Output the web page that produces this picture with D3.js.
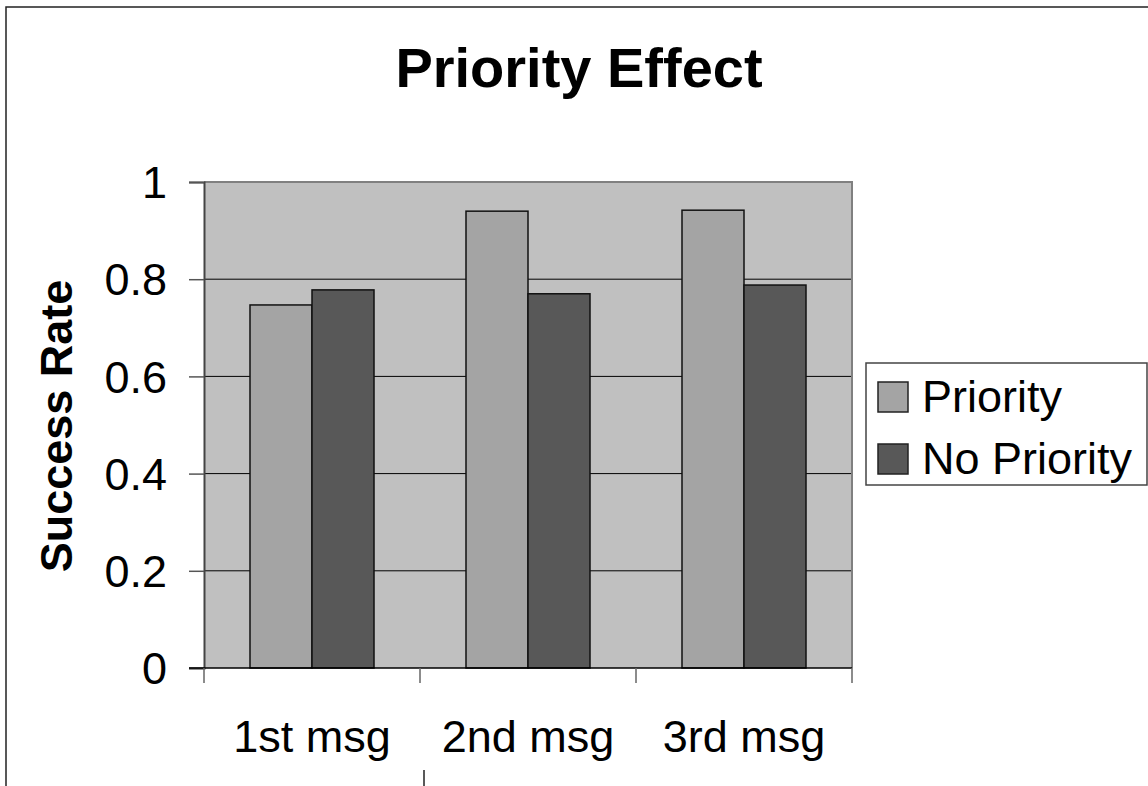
<!DOCTYPE html>
<html>
<head>
<meta charset="utf-8">
<script src="https://cdn.jsdelivr.net/npm/d3@7"></script>
<style>
  body { margin: 0; background: #fff; }
  svg { display: block; font-family: "Liberation Sans", Arial, sans-serif; }
</style>
</head>
<body>
<div class="chart"></div>
<script>
// data
var categories = ["1st msg", "2nd msg", "3rd msg"];
var seriesNames = ["Priority", "No Priority"];
var priority = [0.747, 0.940, 0.942];
var noPriority = [0.778, 0.770, 0.788];
var yTicks = [0, 0.2, 0.4, 0.6, 0.8, 1];
var yTickLabels = ["0", "0.2", "0.4", "0.6", "0.8", "1"];

var width = 1148,
    height = 786;
var plot = {left: 204, right: 852, top: 182, bottom: 668};
var colors = {"Priority": "#a4a4a4", "No Priority": "#585858"};

var svg = d3.select(".chart")
  .append("svg")
    .attr("width", width)
    .attr("height", height);

// outer frame (runs off the right and bottom edges)
svg.append("path")
  .attr("d", "M6,786V7H1148")
  .attr("fill", "none")
  .attr("stroke", "#222")
  .attr("stroke-width", 1.5);
svg.append("line")
  .attr("x1", 424).attr("x2", 424)
  .attr("y1", 770).attr("y2", 786)
  .attr("stroke", "#222").attr("stroke-width", 1.5);

var x0 = d3.scaleBand()
  .domain(categories)
  .range([plot.left, plot.right])
  .padding(0);

var x1 = d3.scaleBand()
  .domain(seriesNames)
  .range([0, x0.bandwidth()])
  .paddingInner(0)
  .paddingOuter(0.742);

var y = d3.scaleLinear()
  .domain([0, 1])
  .range([plot.bottom, plot.top]);

// plot background
svg.append("rect")
  .attr("x", plot.left)
  .attr("y", plot.top)
  .attr("width", plot.right - plot.left)
  .attr("height", plot.bottom - plot.top)
  .attr("fill", "#c0c0c0");

// gridlines
svg.append("g")
  .selectAll("line")
  .data(yTicks.filter(d => d > 0 && d < 1))
  .join("line")
    .attr("x1", plot.left)
    .attr("x2", plot.right)
    .attr("y1", d => y(d))
    .attr("y2", d => y(d))
    .attr("stroke", "#000")
    .attr("stroke-width", 1);

// top + right border of plot area
svg.append("path")
  .attr("d", "M" + plot.left + "," + plot.top + "H" + plot.right + "V" + plot.bottom)
  .attr("fill", "none")
  .attr("stroke", "#808080")
  .attr("stroke-width", 2);

// bars
var rows = categories.map((c, i) => ({cat: c, values: [
  {name: "Priority", value: priority[i]},
  {name: "No Priority", value: noPriority[i]}
]}));

svg.append("g")
  .selectAll("g")
  .data(rows)
  .join("g")
    .attr("transform", d => "translate(" + x0(d.cat) + ",0)")
  .selectAll("rect")
  .data(d => d.values)
  .join("rect")
    .attr("x", d => x1(d.name))
    .attr("y", d => y(d.value))
    .attr("width", x1.bandwidth())
    .attr("height", d => y(0) - y(d.value))
    .attr("fill", d => colors[d.name])
    .attr("stroke", "#111")
    .attr("stroke-width", 1.5);

// y axis
var yAxis = svg.append("g")
  .attr("transform", "translate(" + plot.left + ",0)")
  .call(d3.axisLeft(y)
    .tickValues(yTicks)
    .tickFormat((d, i) => yTickLabels[i])
    .tickSize(15)
    .tickPadding(22));
yAxis.select(".domain").attr("stroke", "#444").attr("stroke-width", 2);
yAxis.selectAll(".tick line").attr("stroke", "#555").attr("stroke-width", 1.5);
yAxis.selectAll(".tick text")
  .attr("font-size", 45)
  .attr("fill", "#000")
  .attr("dy", "0.35em")
  .attr("font-family", "Liberation Sans, Arial, sans-serif");

// x axis: ticks sit on the category boundaries
var boundaries = categories.map(c => x0(c)).concat([plot.right]);
svg.append("line")
  .attr("x1", plot.left - 15)
  .attr("x2", plot.right)
  .attr("y1", plot.bottom)
  .attr("y2", plot.bottom)
  .attr("stroke", "#000")
  .attr("stroke-width", 1.5);
svg.append("g")
  .selectAll("line")
  .data(boundaries)
  .join("line")
    .attr("x1", d => d)
    .attr("x2", d => d)
    .attr("y1", plot.bottom)
    .attr("y2", plot.bottom + 15)
    .attr("stroke", "#666")
    .attr("stroke-width", 1.5);
svg.append("g")
  .selectAll("text")
  .data(categories)
  .join("text")
    .attr("x", d => x0(d) + x0.bandwidth() / 2)
    .attr("y", 752)
    .attr("text-anchor", "middle")
    .attr("font-size", 45)
    .text(d => d);

// titles
svg.append("text")
  .attr("x", 579)
  .attr("y", 87)
  .attr("text-anchor", "middle")
  .attr("font-size", 56)
  .attr("font-weight", "bold")
  .text("Priority Effect");

svg.append("text")
  .attr("transform", "translate(72,426) rotate(-90)")
  .attr("text-anchor", "middle")
  .attr("font-size", 45)
  .attr("font-weight", "bold")
  .text("Success Rate");

// legend
var legend = svg.append("g").attr("transform", "translate(866,363)");
legend.append("rect")
  .attr("width", 281)
  .attr("height", 122)
  .attr("fill", "#fff")
  .attr("stroke", "#444")
  .attr("stroke-width", 1.5);
var item = legend.selectAll("g")
  .data(seriesNames)
  .join("g")
    .attr("transform", (d, i) => "translate(12," + (19 + i * 62) + ")");
item.append("rect")
  .attr("width", 30)
  .attr("height", 30)
  .attr("fill", d => colors[d])
  .attr("stroke", "#222")
  .attr("stroke-width", 1.5);
item.append("text")
  .attr("x", 44)
  .attr("y", 30)
  .attr("font-size", 45)
  .text(d => d);
</script>
</body>
</html>
